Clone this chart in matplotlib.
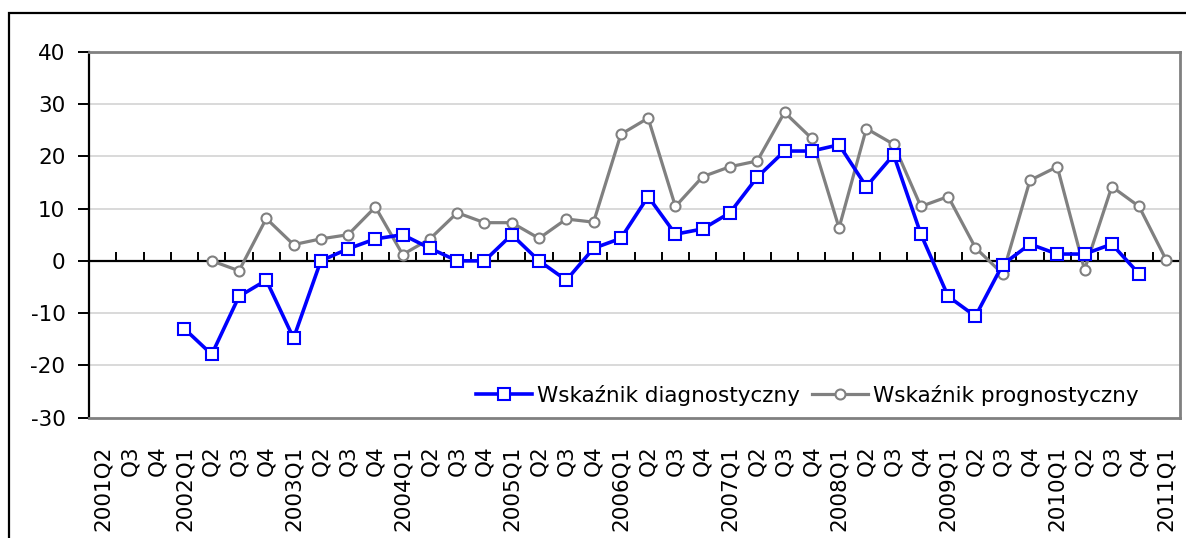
import numpy as np
import matplotlib
matplotlib.use("Agg")
import matplotlib.pyplot as plt
from matplotlib.patches import Rectangle

# quarters 2001Q2 .. 2011Q1
labels = ["2001Q2", "Q3", "Q4",
          "2002Q1", "Q2", "Q3", "Q4",
          "2003Q1", "Q2", "Q3", "Q4",
          "2004Q1", "Q2", "Q3", "Q4",
          "2005Q1", "Q2", "Q3", "Q4",
          "2006Q1", "Q2", "Q3", "Q4",
          "2007Q1", "Q2", "Q3", "Q4",
          "2008Q1", "Q2", "Q3", "Q4",
          "2009Q1", "Q2", "Q3", "Q4",
          "2010Q1", "Q2", "Q3", "Q4",
          "2011Q1"]

nan = np.nan
diagnostyczny = [nan, nan, nan,
                 -13.0, -17.9, -6.8, -3.7,
                 -14.8, 0.0, 2.3, 4.2,
                 5.0, 2.4, 0.0, 0.0,
                 5.0, 0.0, -3.7, 2.4,
                 4.3, 12.3, 5.1, 6.1,
                 9.2, 16.0, 21.0, 21.0,
                 22.2, 14.2, 20.3, 5.1,
                 -6.8, -10.6, -0.7, 3.2,
                 1.3, 1.3, 3.2, -2.5,
                 nan]
prognostyczny = [nan, nan, nan,
                 nan, 0.0, -1.9, 8.1,
                 3.1, 4.2, 5.0, 10.3,
                 1.2, 4.2, 9.2, 7.3,
                 7.3, 4.3, 8.0, 7.4,
                 24.2, 27.3, 10.4, 16.1,
                 18.0, 19.1, 28.4, 23.4,
                 6.3, 25.3, 22.3, 10.4,
                 12.3, 2.5, -2.5, 15.4,
                 18.0, -1.7, 14.2, 10.4,
                 0.1]

BLUE = "#0000FF"
GRAY = "#808080"
FS = 15.5

plt.rcParams.update({"font.family": "DejaVu Sans", "axes.unicode_minus": False})

fig = plt.figure(figsize=(11.86, 5.38), dpi=100)
ax = fig.add_axes([89 / 1186, 1 - 417.7 / 538, (1180 - 89) / 1186, (417.7 - 51.7) / 538])

x = np.arange(len(labels))
ax.set_xlim(-0.5, len(labels) - 0.5)
ax.set_ylim(-30, 40)
ax.set_yticks(np.arange(-30, 41, 10))

# gridlines
for v in np.arange(-20, 40, 10):
    if v != 0:
        ax.axhline(v, color="#D0D0D0", lw=1.1, zorder=0)

# category axis crossing at zero, ticks pointing up at category boundaries
ax.axhline(0, color="black", lw=1.6, zorder=1)
ax.vlines(np.arange(len(labels) + 1) - 0.5, 0, 1.6, color="black", lw=1.4, zorder=1)

ax.plot(x, diagnostyczny, color=BLUE, lw=2.6, marker="s", ms=8.0,
        mfc="white", mec=BLUE, mew=1.5, label="Wskaźnik diagnostyczny", zorder=3)
ax.plot(x, prognostyczny, color=GRAY, lw=2.3, marker="o", ms=7.2,
        mfc="white", mec=GRAY, mew=1.5, label="Wskaźnik prognostyczny", zorder=2)

ax.set_xticks(x)
ax.set_xticklabels(labels, rotation=90, va="top", ha="center", fontsize=FS)
ax.tick_params(axis="x", length=0, pad=20)
ax.tick_params(axis="y", direction="out", length=8, width=1.4, pad=9, labelsize=FS)

for s in ["top", "right", "bottom"]:
    ax.spines[s].set_color(GRAY)
    ax.spines[s].set_linewidth(2)
ax.spines["left"].set_color("black")
ax.spines["left"].set_linewidth(1.6)

leg = ax.legend(loc="center right", bbox_to_anchor=(0.972, 0.062), ncol=2,
                frameon=False, fontsize=FS, borderpad=0, handlelength=2.6,
                handletextpad=0.25, columnspacing=0.55)

# outer chart frame (cut off at the right and bottom edges)
fig.patches.append(Rectangle((9 / 1186, -0.2), 1.2, 1 - 13 / 538 + 0.2,
                             transform=fig.transFigure, fill=False,
                             edgecolor="black", lw=1.6))

fig.savefig("out.png", dpi=100)
